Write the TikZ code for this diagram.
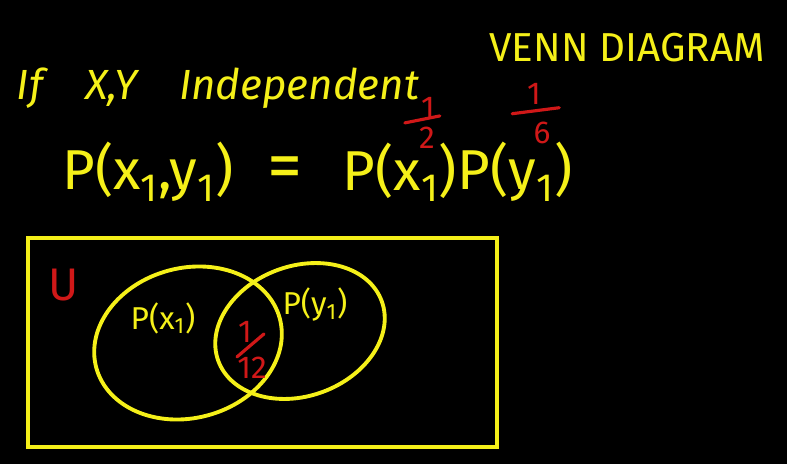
\documentclass[tikz,border=0pt]{standalone}
\usepackage{fontspec}
\setmainfont{Fira Sans}
\usetikzlibrary{positioning}
\definecolor{chalkyellow}{HTML}{F5F019}
\definecolor{chalkred}{HTML}{D01818}

\begin{document}
\begin{tikzpicture}[x=0.02cm, y=0.02cm,
  chalk/.style={text=chalkyellow, inner sep=0pt},
  big/.style={chalk, font=\fontsize{32}{34}\selectfont},
  mid/.style={chalk, font=\fontsize{23}{25}\selectfont},
  lab/.style={chalk, font=\fontsize{18}{20}\selectfont},
  note/.style={text=chalkred, inner sep=0pt, font=\fontsize{18}{20}\selectfont},
  stroke/.style={draw=chalkyellow, line width=2.2pt},
  redstroke/.style={draw=chalkred, line width=1.8pt, line cap=round},
]

\fill[black] (0,0) rectangle (787,464);
\useasboundingbox (0,0) rectangle (787,464);

% ---- heading ----
\node[mid] (title) at (627,416) {VENN DIAGRAM};
\node[mid, font=\fontsize{24}{26}\selectfont\itshape] (cond) at (218,376)
  {If\quad X,Y\quad Independent};

% ---- product rule ----
\node[big] (pxy) at (148,292) {P(x\textsubscript{1},y\textsubscript{1})};
\node[big, font=\fontsize{40}{40}\selectfont] (eqsign) at (285,291) {=};
\node[big] (px) at (400,292) {P(x\textsubscript{1})};
\node[big] (py) at (515,292) {P(y\textsubscript{1})};

% marginals written above
\node[note] (halfnum) at (428,356) {1};
\node[note] (halfden) at (427,326) {2};
\draw[redstroke] (halfden.north west) ++(-14,4) -- ++(35,7);

\node[note] (sixthnum) at (534,370) {1};
\node[note] (sixthden) at (542,331) {6};
\draw[redstroke] (sixthden.north west) ++(-21,8) -- ++(47,6);

% ---- venn diagram ----
\draw[stroke] (28,17) rectangle (497,226);
\node[note, font=\fontsize{26}{28}\selectfont] (univ) at (64,179) {U};

\draw[stroke, rotate around={15:(188,121)}] (188,121) ellipse [x radius=95, y radius=75];
\draw[stroke, rotate around={20:(300,133)}] (300,133) ellipse [x radius=87, y radius=65];

\node[lab] (setx) at (163,146) {P(x\textsubscript{1})};
\node[lab] (sety) at (315,159) {P(y\textsubscript{1})};

% joint probability in the overlap
\node[note] (lensnum) at (245,132) {1};
\node[note] (lensden) at (252,96) {12};
\draw[redstroke] (lensden.north west) -- ++(27,23);

\end{tikzpicture}
\end{document}
